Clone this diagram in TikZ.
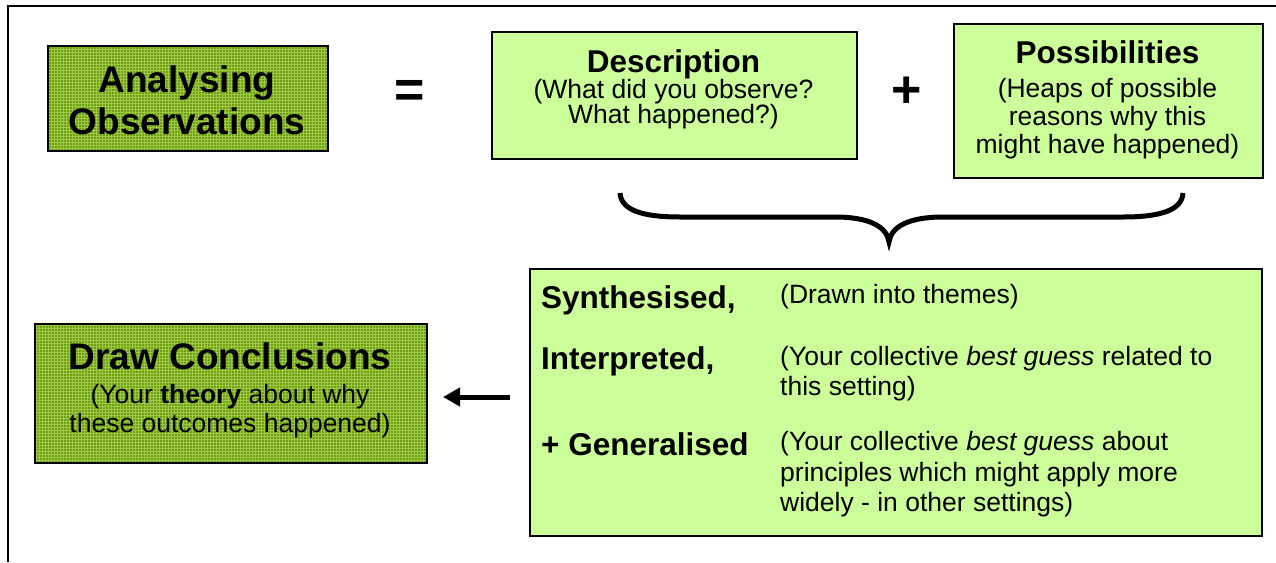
\documentclass[tikz,border=0pt]{standalone}
\usepackage{fontspec}
\setmainfont{Liberation Sans}
\usetikzlibrary{patterns,arrows.meta}
\definecolor{lightg}{RGB}{204,255,153}
\definecolor{oliveg}{RGB}{112,160,18}
\definecolor{gridg}{RGB}{156,200,70}
\tikzset{
  lightbox/.style={draw=black, line width=2pt, fill=lightg, anchor=north west, inner sep=0pt},
  darkbox/.style={draw=black, line width=2pt, preaction={fill=oliveg}, pattern=grid, pattern color=gridg, anchor=north west, inner sep=0pt},
  bigttl/.style={font=\fontsize{37}{42}\selectfont\bfseries, anchor=base, inner sep=0pt},
  ttl/.style={font=\fontsize{31.5}{36}\selectfont\bfseries, anchor=base, inner sep=0pt},
  sub/.style={font=\fontsize{26.5}{30}\selectfont, anchor=base, inner sep=0pt},
  lbl/.style={font=\fontsize{31.5}{36}\selectfont\bfseries, anchor=base west, inner sep=0pt},
  rtxt/.style={font=\fontsize{26.5}{30}\selectfont, anchor=base west, inner sep=0pt},
  opsym/.style={font=\fontsize{52}{56}\selectfont\bfseries, inner sep=0pt},
  frame/.style={line width=2pt},
  bracestyle/.style={line width=5pt},
  arrowstyle/.style={line width=5pt, -{Triangle[length=17pt,width=18pt]}}
}
\begin{document}
\begin{tikzpicture}[x=1pt,y=-1pt]
\useasboundingbox (0,0) rectangle (1276,562);
% frame
\coordinate (fbl) at (8,562);
\coordinate (ftl) at (8,6);
\coordinate (ftr) at (1276,6);
\draw[frame] (fbl) -- (ftl) -- (ftr);
% boxes
\node[darkbox, minimum width=280pt, minimum height=105pt] (ana) at (47,45) {};
\node[lightbox, minimum width=365pt, minimum height=127pt] (desc) at (491,31) {};
\node[lightbox, minimum width=309pt, minimum height=154pt] (poss) at (953,23) {};
\node[lightbox, minimum width=732pt, minimum height=267pt] (big) at (529,268) {};
\node[darkbox, minimum width=392pt, minimum height=139pt] (dc) at (34,323) {};
% analysing
\node[bigttl] (ana1) at (187,92) {Analysing};
\node[bigttl] (ana2) at (187,134) {Observations};
\node[opsym] (eq) at (410,94) {=};
% description
\node[ttl] (desc1) at (673.5,72) {Description};
\node[sub] (desc2) at (673.5,98) {(What did you observe?};
\node[sub] (desc3) at (673.5,123) {What happened?)};
\node[opsym] (plus) at (907,92) {+};
% possibilities
\node[ttl] (poss1) at (1107.5,63) {Possibilities};
\node[sub] (poss2) at (1107.5,97) {(Heaps of possible};
\node[sub] (poss3) at (1107.5,125) {reasons why this};
\node[sub] (poss4) at (1107.5,153) {might have happened)};
% brace
\coordinate (brl) at (620,193);
\coordinate (brt) at (889,242);
\coordinate (brr) at (1183,193);
\draw[bracestyle] (brl) .. controls (621,210) and (642,217) .. (680,217)
  -- (835,217) .. controls (870,217) and (887,227) .. (brt)
  .. controls (891,227) and (908,217) .. (943,217)
  -- (1123,217) .. controls (1161,217) and (1182,210) .. (brr);
% big box
\node[lbl] (l1) at (541,308) {Synthesised,};
\node[rtxt] (r1) at (780,303) {(Drawn into themes)};
\node[lbl] (l2) at (541,369) {Interpreted,};
\node[rtxt] (r2a) at (780,365) {(Your collective \textit{best guess} related to};
\node[rtxt] (r2b) at (780,395) {this setting)};
\node[lbl] (l3) at (541,455) {+ Generalised};
\node[rtxt] (r3a) at (780,450) {(Your collective \textit{best guess} about};
\node[rtxt] (r3b) at (780,481) {principles which might apply more};
\node[rtxt] (r3c) at (780,511) {widely - in other settings)};
% draw conclusions
\node[bigttl] (dc1) at (230,369) {Draw Conclusions};
\node[sub] (dc2) at (230,403) {(Your \textbf{theory} about why};
\node[sub] (dc3) at (230,432) {these outcomes happened)};
% arrow
\coordinate (astart) at (510,397);
\coordinate (aend) at (443,397);
\draw[arrowstyle] (astart) -- (aend);
\end{tikzpicture}
\end{document}
